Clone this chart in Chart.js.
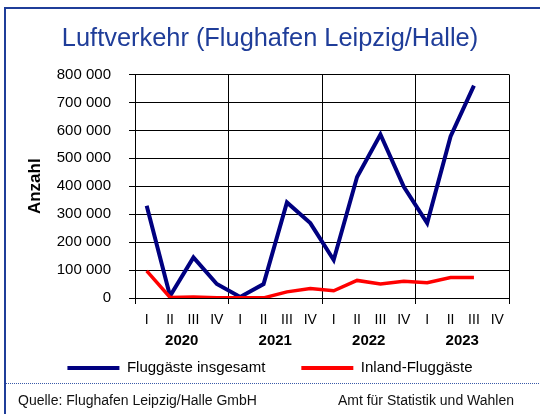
<!DOCTYPE html>
<html>
<head>
<meta charset="utf-8">
<script src="https://cdn.jsdelivr.net/npm/chart.js@4.4.1/dist/chart.umd.min.js"></script>
<style>
  html, body { margin: 0; padding: 0; background: #fff; }
  #wrap { width: 540px; height: 414px; }
</style>
</head>
<body>
<div id="wrap"><canvas id="chart" width="540" height="414"></canvas></div>
<script>
// Quarters 2020 - 2023, passenger counts
const quarters = ["I", "II", "III", "IV", "I", "II", "III", "IV", "I", "II", "III", "IV", "I", "II", "III", "IV"];
const years = ["2020", "2021", "2022", "2023"];
const totalPassengers = [330000, 7000, 145000, 50000, 4000, 50000, 342000, 268000, 136000, 433000, 585000, 398000, 268000, 578000, 760000, null];
const domesticPassengers = [97000, 2000, 4000, 1000, 500, 500, 22000, 34000, 26000, 63000, 50000, 60000, 55000, 73000, 73000, null];
const yTicks = [0, 100000, 200000, 300000, 400000, 500000, 600000, 700000, 800000];

const navy = "#000080";
const red = "#ff0000";
const frameBlue = "#1f3d99";

Chart.defaults.font.family = "'Liberation Sans', Arial, sans-serif";
Chart.defaults.color = "#000";

const fmt = v => String(v).replace(/\B(?=(\d{3})+(?!\d))/g, " ");

// frame, dotted separator and source line
const framePlugin = {
  id: "frame",
  beforeDraw(chart) {
    const c = chart.ctx;
    c.save();
    c.strokeStyle = frameBlue;
    c.lineWidth = 2;
    c.beginPath();
    c.moveTo(5, 414);
    c.lineTo(5, 8);
    c.lineTo(540, 8);
    c.stroke();
    c.restore();
  },
  afterDraw(chart) {
    const c = chart.ctx;
    c.save();
    c.strokeStyle = "#3a5aa8";
    c.lineWidth = 1;
    c.setLineDash([1, 1]);
    c.beginPath();
    c.moveTo(6, 383.5);
    c.lineTo(540, 383.5);
    c.stroke();
    c.setLineDash([]);
    c.fillStyle = "#111";
    c.font = "14px 'Liberation Sans', Arial, sans-serif";
    c.textBaseline = "middle";
    c.textAlign = "left";
    c.fillText("Quelle: Flughafen Leipzig/Halle GmbH", 18, 401);
    c.textAlign = "right";
    c.fillText("Amt für Statistik und Wahlen", 514, 401);
    c.restore();
  }
};

new Chart(document.getElementById("chart"), {
  type: "line",
  data: {
    labels: quarters,
    datasets: [{
      label: "Fluggäste insgesamt",
      data: totalPassengers,
      borderColor: navy,
      backgroundColor: navy,
      borderWidth: 4,
      pointRadius: 0,
      tension: 0,
      order: 1
    }, {
      label: "Inland-Fluggäste",
      data: domesticPassengers,
      borderColor: red,
      backgroundColor: red,
      borderWidth: 3.5,
      pointRadius: 0,
      tension: 0,
      order: 0
    }]
  },
  options: {
    responsive: false,
    animation: false,
    layout: { padding: { left: 0, right: 0, top: 0, bottom: 28.5 } },
    plugins: {
      title: {
        display: true,
        text: "Luftverkehr (Flughafen Leipzig/Halle)",
        color: frameBlue,
        font: { size: 25.4, weight: "normal" },
        padding: { top: 24, bottom: 20 }
      },
      legend: {
        position: "bottom",
        labels: {
          boxWidth: 52,
          boxHeight: 4,
          padding: 36,
          font: { size: 15 },
          color: "#000",
          sort: (a, b) => a.datasetIndex - b.datasetIndex,
          generateLabels: chart => Chart.defaults.plugins.legend.labels.generateLabels(chart)
            .map(l => Object.assign(l, { lineWidth: 0 }))
        }
      },
      tooltip: { enabled: false }
    },
    scales: {
      x: {
        type: "category",
        offset: true,
        grid: {
          offset: true,
          color: c => (c.index === undefined || c.index % 4 === 0) ? "#000" : "rgba(0,0,0,0)",
          lineWidth: 1,
          tickLength: 6
        },
        border: { color: "#000", width: 1 },
        ticks: { font: { size: 14 }, color: "#000", padding: 7.5, maxRotation: 0, autoSkip: false },
        afterFit: s => { s.height = 26.5; }
      },
      // year row under the quarters; zero-height box, mirrored so the labels are not clipped,
      // negative padding pushes them back below the quarter labels
      x2: {
        type: "category",
        labels: years,
        min: years[0],
        max: years[years.length - 1],
        position: "bottom",
        offset: true,
        weight: 1,
        grid: { display: false, drawTicks: false },
        border: { display: false },
        ticks: { font: { size: 15, weight: "bold" }, color: "#000", padding: -25, mirror: true, autoSkip: false, maxRotation: 0 },
        afterFit: s => { s.height = 0; }
      },
      y: {
        min: 0,
        max: 800000,
        afterBuildTicks: s => { s.ticks = yTicks.map(v => ({ value: v })); },
        grid: { color: "#000", lineWidth: 1, tickLength: 6 },
        border: { color: "#000", width: 1 },
        ticks: { font: { size: 15 }, color: "#000", padding: 18, callback: v => fmt(v) },
        title: {
          display: true,
          text: "Anzahl",
          font: { size: 17, weight: "bold" },
          color: "#000",
          padding: { top: 25, bottom: 0 }
        },
        afterFit: s => { s.width = 135; }
      },
      y2: {
        position: "right",
        display: true,
        grid: { display: false },
        border: { display: false },
        ticks: { display: false },
        afterFit: s => { s.width = 31; }
      }
    }
  },
  plugins: [framePlugin]
});
</script>
</body>
</html>
